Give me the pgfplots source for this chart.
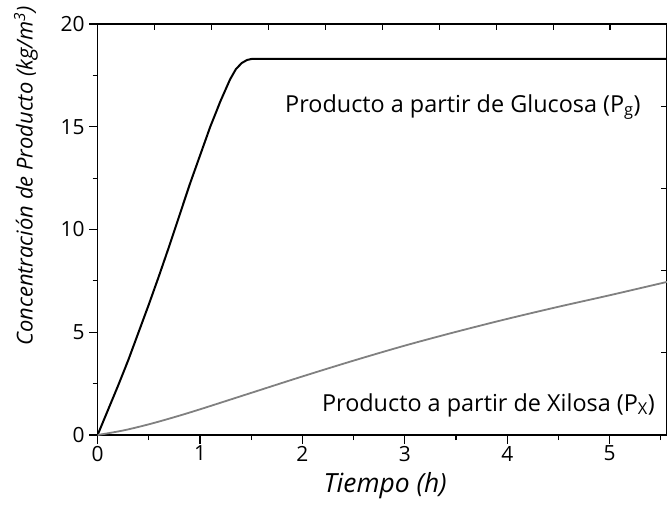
\documentclass[border=0pt]{standalone}
\usepackage{fontspec}
\setmainfont{Open Sans}
\usepackage{pgfplots}
\pgfplotsset{compat=1.18}
\definecolor{pxgray}{RGB}{128,128,128}
\begin{document}
\begin{tikzpicture}[x=1bp,y=1bp]
\begin{axis}[
  name=ax,
  at={(0,0)}, anchor=south west,
  width=569.4bp, height=411bp, scale only axis,
  xmin=0, xmax=5.56, ymin=0, ymax=20,
  xtick={0,1,2,3,4,5}, minor xtick={0.5,1.5,2.5,3.5,4.5,5.5},
  ytick={0,5,10,15,20}, minor ytick={2.5,7.5,12.5,17.5},
  xtick pos=bottom, ytick pos=left,
  tick align=outside,
  major tick length=8.5bp, minor tick length=5bp,
  every tick/.style={black, line width=1.2bp},
  axis line style={line width=1.5bp},
  /pgf/number format/assume math mode=true,
  tick label style={font=\fontsize{21}{24}\selectfont},
  yticklabel style={xshift=-1bp},
  xticklabel style={yshift=1bp},
  xlabel={\itshape Tiempo (h)},
  ylabel={\itshape Concentración de Producto (kg/m\textsuperscript{3})},
  xlabel style={font=\fontsize{26.5}{30}\selectfont, at={(axis description cs:0.505,-0.122)}, anchor=center},
  ylabel style={font=\fontsize{22}{26}\selectfont, at={(axis description cs:-0.1257,0.63)}, anchor=center},
  clip=true,
]
\addplot[black, line width=2bp, line join=round] coordinates {
(0,0) (0.1,1.2) (0.2,2.4) (0.3,3.65) (0.4,5.0) (0.5,6.35) (0.6,7.75)
(0.7,9.2) (0.8,10.7) (0.9,12.2) (1.0,13.6) (1.1,15.0) (1.2,16.25)
(1.293,17.3) (1.35,17.8) (1.407,18.1) (1.46,18.25) (1.505,18.3) (5.56,18.3)
};
\addplot[pxgray, line width=1.8bp, smooth] coordinates {
(0,0) (0.25,0.22) (0.5,0.52) (0.75,0.87) (1,1.25) (1.5,2.05) (2,2.85)
(2.5,3.62) (3,4.35) (3.5,5.02) (4,5.65) (4.5,6.24) (5,6.8) (5.56,7.45)
};
\node[anchor=west, font=\fontsize{23.5}{27}\selectfont, inner sep=0pt] at (axis cs:1.83,15.96) {Producto a partir de Glucosa (P\textsubscript{g})};
\node[anchor=west, font=\fontsize{23.5}{27}\selectfont, inner sep=0pt] at (axis cs:2.19,1.46) {Producto a partir de Xilosa (P\textsubscript{X})};
\end{axis}
\begin{axis}[
  at={(0,0)}, anchor=south west,
  width=569.4bp, height=411bp, scale only axis,
  xmin=0, xmax=10, ymin=0, ymax=20,
  xtick={1,...,9}, ytick={4,8,12,16},
  xtick pos=top, ytick pos=right,
  tick align=inside,
  major tick length=6bp,
  every tick/.style={black, line width=1.2bp},
  xticklabels={}, yticklabels={},
  axis line style={draw=none},
]
\end{axis}
\pgfresetboundingbox
\useasboundingbox (-97.6bp,-84bp) rectangle (569.4bp,435bp);
\end{tikzpicture}
\end{document}
